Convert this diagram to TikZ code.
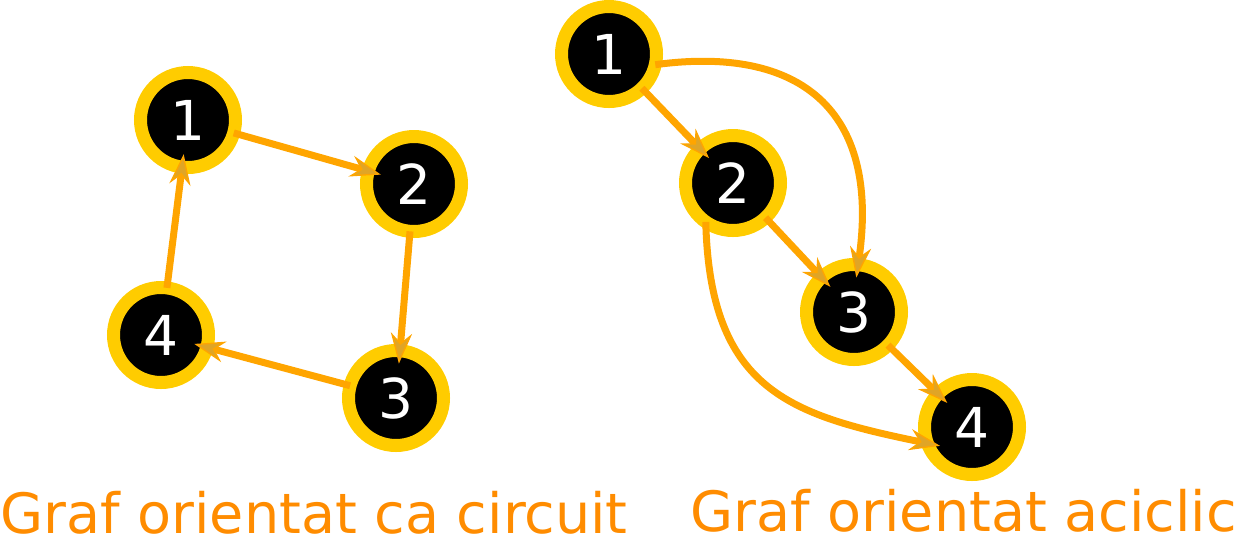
\documentclass[tikz,border=0pt]{standalone}
\usepackage{fontspec}
\setmainfont{DejaVu Sans}
\usetikzlibrary{arrows.meta}
\definecolor{ringc}{HTML}{FFCC00}
\definecolor{edgec}{HTML}{FFA500}
\definecolor{tipc}{HTML}{E0A526}
\definecolor{labc}{HTML}{FF8C00}
\tikzset{
  vert/.style={circle, fill=black, draw=ringc, line width=9.75pt,
    minimum size=71.25pt, inner sep=0pt, outer sep=0pt, text=white,
    font=\fontsize{41.25}{41.25}\selectfont},
  edge/.style={draw=edgec, line width=5.25pt, shorten >=-9.75pt,
    -{Stealth[length=23pt,width=16pt,inset=7.5pt,line width=1pt,fill=tipc]}},
  captext/.style={text=labc, inner sep=0pt, font=\fontsize{41.7}{41.7}\selectfont}
}
\begin{document}
\begin{tikzpicture}[x=0.75pt,y=-0.75pt]
\useasboundingbox (0,0) rectangle (1235,537);
% left graph
\node[vert] (l1) at (188,120) {1};
\node[vert] (l2) at (414,184) {2};
\node[vert] (l3) at (396,398) {3};
\node[vert] (l4) at (161,335) {4};
\draw[edge] (l1) -- (l2);
\draw[edge] (l2) -- (l3);
\draw[edge] (l3) -- (l4);
\draw[edge] (l4) -- (l1);
% right graph
\node[vert] (r1) at (609,54) {1};
\node[vert] (r2) at (733,183) {2};
\node[vert] (r3) at (854,312) {3};
\node[vert] (r4) at (972,427) {4};
\draw[edge] (r1) -- (r2);
\draw[edge] (r2) -- (r3);
\draw[edge] (r3) -- (r4);
\draw[edge] (r1.-13) .. controls (800,45) and (880,110) .. (r3.85);
\draw[edge] (r2.235) .. controls (710,390) and (790,415) .. (r4.200);
% captions
\node[captext, anchor=base west] (c1) at (0,533) {Graf orientat ca circuit};
\node[captext, anchor=base west] (c2) at (690,531) {Graf orientat aciclic};
\end{tikzpicture}
\end{document}
